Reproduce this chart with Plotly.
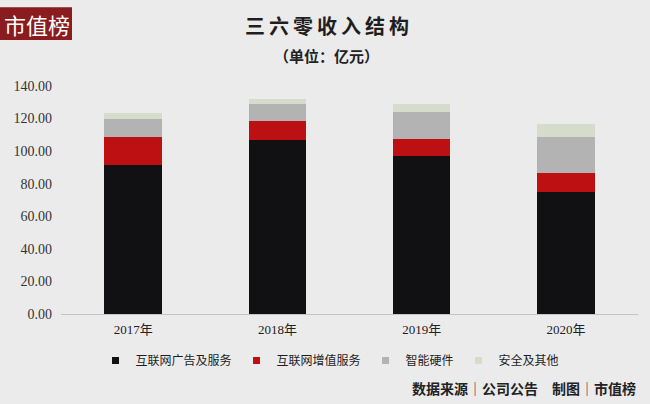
import plotly.graph_objects as go

# ---- data ----
years = ["2017年", "2018年", "2019年", "2020年"]
series_names = ["互联网广告及服务", "互联网增值服务", "智能硬件", "安全及其他"]
ad_services = [91.2, 106.7, 97.1, 75.2]
value_added = [17.7, 11.9, 10.6, 11.3]
hardware = [10.7, 10.4, 16.5, 22.1]
security_other = [3.7, 3.0, 4.7, 7.8]
y_ticks = [0, 20, 40, 60, 80, 100, 120, 140]

colors = ["#111012", "#bc1013", "#b3b3b4", "#d6dccc"]
BG = "#ecebec"

W, H = 650, 404
ML, MR, MT, MB = 61, 12, 86, 89.5
PW, PH = W - ML - MR, H - MT - MB


def px_x(px):
    return (px - ML) / PW


def px_y(py):
    return (H - MB - py) / PH


CJK = "Noto Sans CJK SC"
SERIF = "Liberation Serif, Noto Sans CJK SC"

fig = go.Figure()
for name, vals, col in zip(series_names, [ad_services, value_added, hardware, security_other], colors):
    fig.add_trace(go.Bar(
        x=years, y=vals, name=name, marker=dict(color=col, line=dict(width=0)),
        showlegend=False,
    ))
# legend entries with small square markers
for name, col in zip(series_names, colors):
    fig.add_trace(go.Scatter(
        x=[None], y=[None], mode="markers", name=name,
        marker=dict(symbol="square", size=7, color=col),
    ))

fig.update_layout(
    width=W, height=H,
    paper_bgcolor=BG, plot_bgcolor=BG,
    margin=dict(l=ML, r=MR, t=MT, b=MB, pad=0),
    barmode="stack", bargap=0.6,
    showlegend=True,
    legend=dict(
        orientation="h", x=px_x(330), xanchor="center", y=px_y(361), yanchor="middle",
        font=dict(family=CJK, size=12, color="#1e1e1e"),
        bgcolor="rgba(0,0,0,0)", itemwidth=30, traceorder="normal",
    ),
    xaxis=dict(
        showgrid=False, zeroline=False, showline=True, linecolor="#c4c4c4", linewidth=1,
        tickfont=dict(family=SERIF, size=13, color="#222222"),
        ticks="", ticklabelstandoff=3,
    ),
    yaxis=dict(
        range=[0, 140], tickvals=y_ticks, tickformat=".2f",
        showgrid=False, zeroline=False, showline=False,
        tickfont=dict(family=SERIF, size=14, color="#333333"),
        ticks="", ticklabelstandoff=8,
    ),
)

# logo box
fig.add_shape(type="rect", xref="paper", yref="paper",
              x0=px_x(0), x1=px_x(72), y0=px_y(40), y1=px_y(7),
              fillcolor="#8a1b1f", line=dict(width=0), layer="above")
fig.add_annotation(xref="paper", yref="paper", x=px_x(36.5), y=px_y(24),
                   text="市值榜", showarrow=False, xanchor="center", yanchor="middle",
                   font=dict(family=CJK, size=22, color="#ffffff"))

# title & subtitle
fig.add_annotation(xref="paper", yref="paper", x=px_x(326.5), y=px_y(25),
                   text="<b>三\u2009六\u2009零\u2009收\u2009入\u2009结\u2009构</b>", showarrow=False,
                   xanchor="center", yanchor="middle",
                   font=dict(family=CJK, size=20, color="#1e1e1e"))
fig.add_annotation(xref="paper", yref="paper", x=px_x(326.5), y=px_y(55),
                   text="<b>（单位：亿元）</b>", showarrow=False,
                   xanchor="center", yanchor="middle",
                   font=dict(family=CJK, size=15, color="#222222"))

# footer
fig.add_annotation(xref="paper", yref="paper", x=px_x(638), y=px_y(389),
                   text="<b>数据来源│公司公告　制图│市值榜</b>", showarrow=False,
                   xanchor="right", yanchor="middle",
                   font=dict(family=CJK, size=14, color="#222222"))

fig.write_html(
    "out.html",
    config={"displayModeBar": False},
    post_script="document.body.style.margin='0';document.body.style.padding='0';"
                "document.body.style.background='" + BG + "';",
)
